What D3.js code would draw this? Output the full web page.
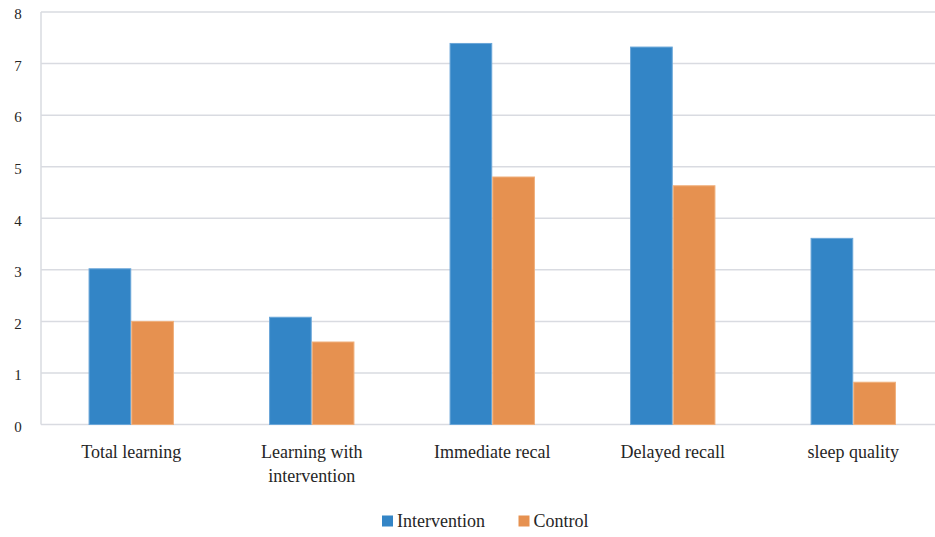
<!DOCTYPE html>
<html>
<head>
<meta charset="utf-8">
<script src="https://cdn.jsdelivr.net/npm/d3@7"></script>
<style>
  html, body { margin: 0; padding: 0; background: #fff; }
  svg { display: block; }
  text { font-family: "Liberation Serif", "DejaVu Serif", serif; fill: #262626; }
</style>
</head>
<body>
<svg id="chart" width="935" height="537"></svg>
<script>
// Outcome categories (second line of a label goes after "\n")
const categories = ["Total learning", "Learning with\nintervention", "Immediate recal", "Delayed recall", "sleep quality"];
const seriesNames = ["Intervention", "Control"];
const interventionValues = [3.02, 2.08, 7.39, 7.32, 3.61];
const controlValues = [2.00, 1.60, 4.80, 4.63, 0.82];
const yTicks = [0, 1, 2, 3, 4, 5, 6, 7, 8];

const colors = { Intervention: "#3385c6", Control: "#e69150" };
const borders = { Intervention: "#6aa6d8", Control: "#f0b07c" };

const svg = d3.select("#chart");
const margin = { left: 41, top: 12, bottom: 112.5 };
const plotRight = 943.5;
const height = 537;

const data = categories.map((c, i) => ({
  category: c,
  Intervention: interventionValues[i],
  Control: controlValues[i]
}));

const x0 = d3.scaleBand()
  .domain(categories)
  .range([margin.left, plotRight])
  .paddingInner(0.527)
  .paddingOuter(0.2635);

const x1 = d3.scaleBand()
  .domain(seriesNames)
  .range([0, x0.bandwidth()]);

const y = d3.scaleLinear()
  .domain([0, 8])
  .range([height - margin.bottom, margin.top]);

// Horizontal gridlines
svg.append("g")
  .selectAll("line")
  .data(yTicks)
  .join("line")
  .attr("x1", margin.left)
  .attr("x2", plotRight)
  .attr("y1", d => y(d))
  .attr("y2", d => y(d))
  .attr("stroke", "#d9dbe1")
  .attr("stroke-width", 1.5);

// Vertical axis line
svg.append("line")
  .attr("x1", margin.left).attr("x2", margin.left)
  .attr("y1", y(8)).attr("y2", y(0))
  .attr("stroke", "#d9dbe1")
  .attr("stroke-width", 1.5);

// Y tick labels
const yAxis = d3.axisLeft(y).tickValues(yTicks).tickSize(0).tickPadding(20);
const yg = svg.append("g")
  .attr("transform", `translate(${margin.left},0)`)
  .call(yAxis);
yg.select(".domain").remove();
yg.selectAll("text")
  .attr("font-family", "Liberation Serif, DejaVu Serif, serif")
  .attr("font-size", 15)
  .attr("fill", "#262626")
  .attr("text-anchor", "middle")
  .attr("dx", "-3")
  .attr("dy", "0.45em");

// Bars
const groups = svg.append("g")
  .selectAll("g")
  .data(data)
  .join("g")
  .attr("transform", d => `translate(${x0(d.category)},0)`);

groups.selectAll("rect")
  .data(d => seriesNames.map(s => ({ series: s, value: d[s] })))
  .join("rect")
  .attr("x", d => x1(d.series) + 0.5)
  .attr("width", x1.bandwidth() - 1)
  .attr("y", d => y(d.value))
  .attr("height", d => y(0) - y(d.value))
  .attr("fill", d => colors[d.series])
  .attr("stroke", d => borders[d.series])
  .attr("stroke-width", 1);

// Category labels
const catG = svg.append("g");
data.forEach(d => {
  const lines = d.category.split("\n");
  const t = catG.append("text")
    .attr("x", x0(d.category) + x0.bandwidth() / 2)
    .attr("y", 458)
    .attr("text-anchor", "middle")
    .attr("font-size", 18);
  lines.forEach((ln, i) => {
    t.append("tspan")
      .attr("x", x0(d.category) + x0.bandwidth() / 2)
      .attr("dy", i === 0 ? 0 : 24)
      .text(ln);
  });
});

// Legend
const legendItems = [
  { name: "Intervention", x: 382 },
  { name: "Control", x: 518.5 }
];
const lg = svg.append("g");
legendItems.forEach(it => {
  lg.append("rect")
    .attr("x", it.x).attr("y", 515.5)
    .attr("width", 11).attr("height", 11)
    .attr("fill", colors[it.name]);
  lg.append("text")
    .attr("x", it.x + 15).attr("y", 526.5)
    .attr("font-size", 18)
    .text(it.name);
});
</script>
</body>
</html>
